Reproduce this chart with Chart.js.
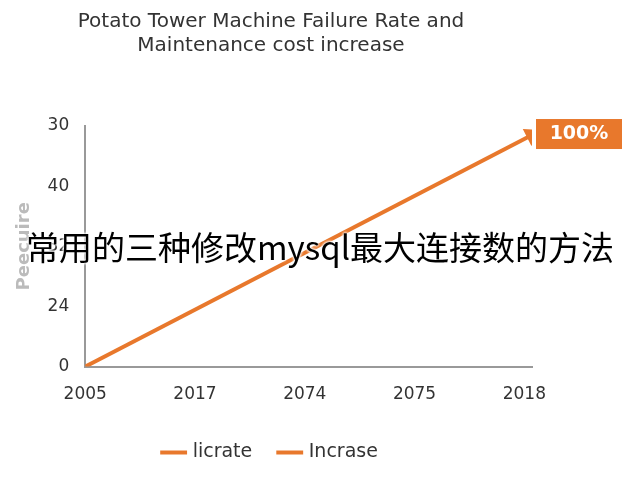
<!DOCTYPE html>
<html><head><meta charset="utf-8">
<script src="https://cdn.jsdelivr.net/npm/chart.js"></script>
<style>body{margin:0;background:#fff;}#w{position:relative;width:640px;height:480px;}
#ov{position:absolute;left:0;top:222px;width:640px;text-align:center;font:33px "Noto Sans CJK SC";color:#000;text-shadow:0 0 3px #fff,0 0 3px #fff,0 0 3px #fff;white-space:nowrap;}</style>
</head><body><div id="w"><canvas id="c" width="640" height="480"></canvas><div id="ov">常用的三种修改mysql最大连接数的方法</div></div>
<script>
const xLabels=['2005','2017','2074','2075','2018'];
const yLabels=['0','24','32','40','30'];
const lineX=[0,4.07];
const lineY=[0,3.85];
const seriesNames=['licrate','Incrase'];
const endLabel='100%';
const orange='#e8782c';
const endPlug={id:'endLabel',afterDatasetsDraw(ch){const c=ch.ctx;const m=ch.getDatasetMeta(0).data[1];
c.save();c.fillStyle=orange;const x=m.x+4,y=m.y-16;c.fillRect(x,y,86,30);c.fillStyle='#fff';c.font='bold 19px "DejaVu Sans"';c.textAlign='center';c.textBaseline='middle';c.fillText(endLabel,x+43,y+15);c.restore();}};
new Chart(document.getElementById('c'),{type:'scatter',
data:{datasets:[{label:seriesNames[0],data:lineX.map((x,i)=>({x,y:lineY[i]})),showLine:true,borderColor:orange,backgroundColor:orange,borderWidth:4,
pointStyle:['circle','triangle'],pointRadius:[0,7],pointRotation:[0,63]},
{label:seriesNames[1],data:[],showLine:true,borderColor:orange,backgroundColor:orange,borderWidth:4}]},
options:{responsive:false,animation:false,layout:{padding:{left:10,right:108,top:0,bottom:8}},
plugins:{title:{display:true,text:['Potato Tower Machine Failure Rate and','Maintenance cost increase'],font:{size:20,family:'DejaVu Sans',weight:'normal'},color:'#333',padding:{top:10,bottom:68}},
legend:{position:'bottom',labels:{usePointStyle:true,pointStyle:'line',boxWidth:50,padding:28,font:{size:19,family:'DejaVu Sans'},color:'#333',
generateLabels(ch){return seriesNames.map((n,i)=>({text:n,strokeStyle:orange,fillStyle:orange,lineWidth:4,pointStyle:'line',datasetIndex:i,fontColor:'#333'}));}}},tooltip:{enabled:false}},
scales:{x:{type:'linear',min:0,max:4.07,afterBuildTicks(a){a.ticks=[0,1,2,3,4].map(v=>({value:v}));},
ticks:{callback:v=>xLabels[v],font:{size:17,family:'DejaVu Sans'},color:'#333',padding:10},grid:{display:false},border:{color:'#999',width:2}},
y:{min:0,max:4,afterBuildTicks(a){a.ticks=[0,1,2,3,4].map(v=>({value:v}));},
ticks:{callback:v=>yLabels[v],font:{size:17,family:'DejaVu Sans'},color:'#333',padding:8},grid:{display:false,drawTicks:true},border:{color:'#999',width:2},
title:{display:true,text:'Peecuire',font:{size:18,family:'DejaVu Sans',weight:'bold'},color:'#bbb'}}}},
plugins:[endPlug]});
</script></body></html>
